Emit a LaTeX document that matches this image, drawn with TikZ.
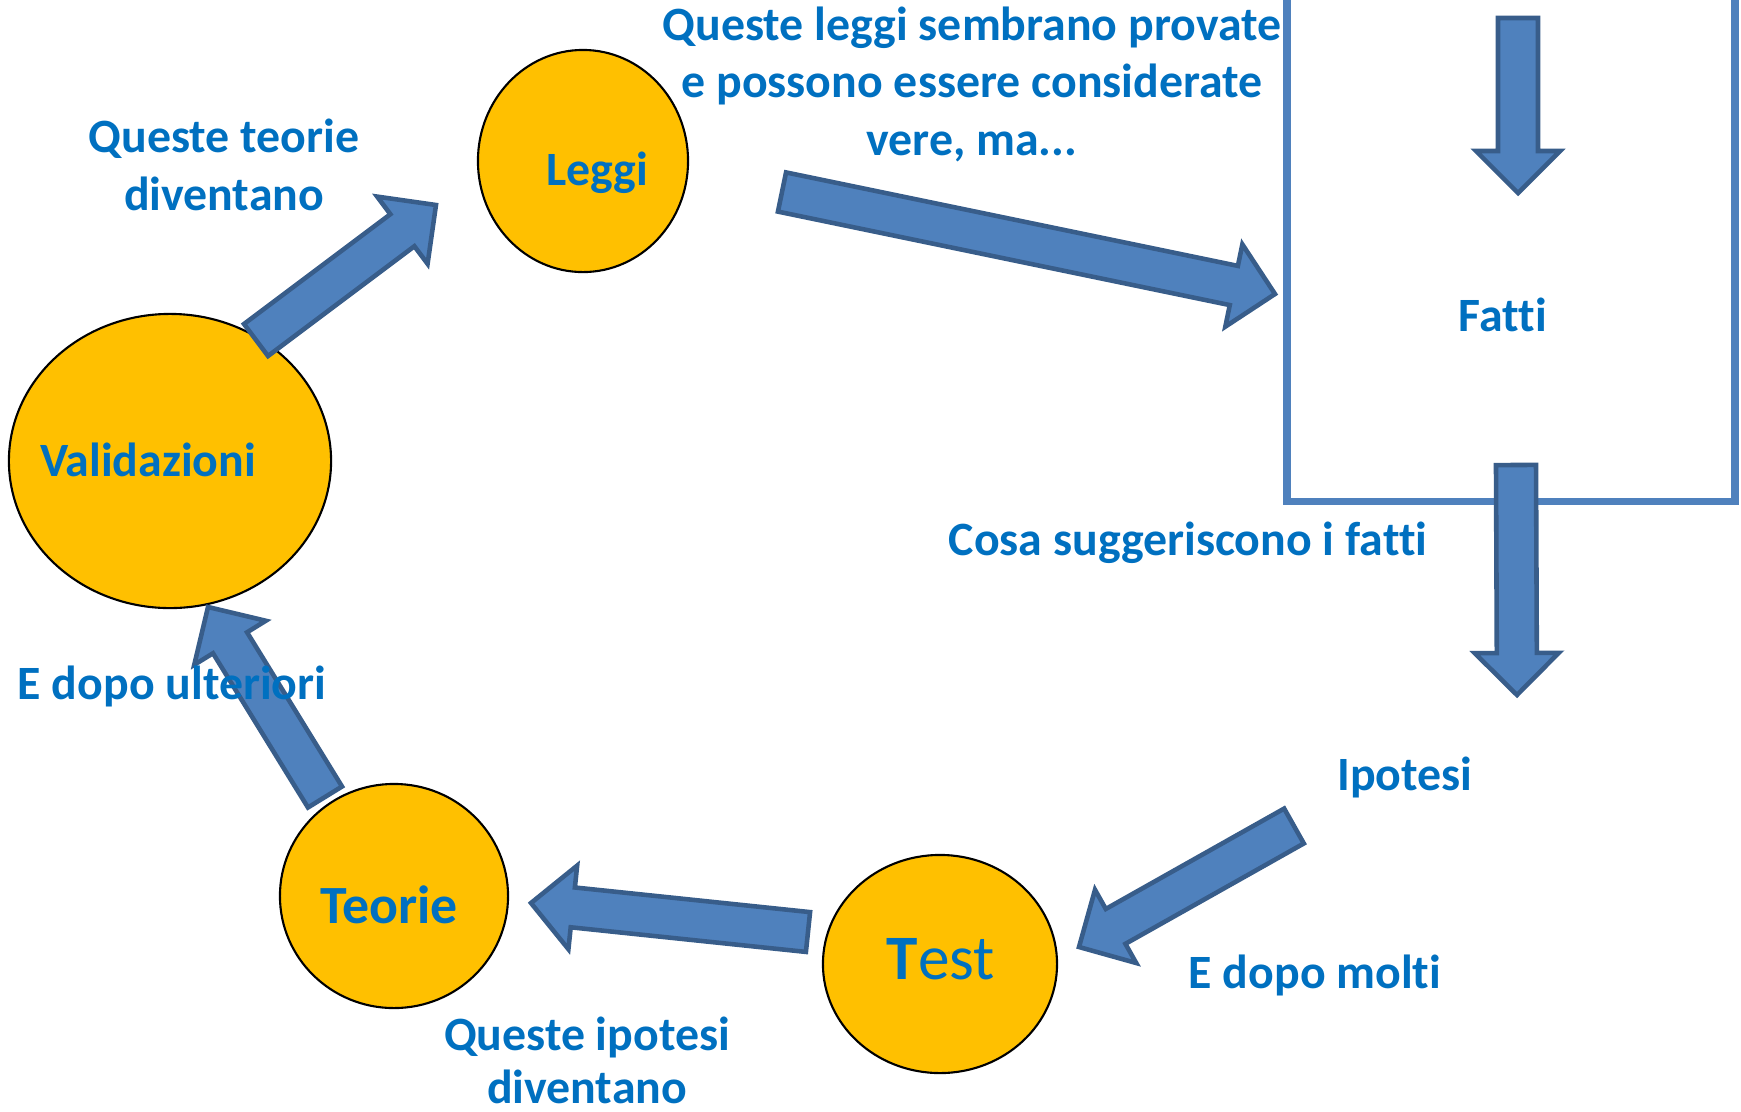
\documentclass[tikz,border=0pt]{standalone}
\usepackage{fontspec}
\setmainfont{Carlito}[Ligatures=NoCommon]
\usepackage{tikz}
\usetikzlibrary{calc}
\usetikzlibrary{shapes.geometric}

\definecolor{txtblue}{HTML}{0070C0}
\definecolor{gold}{HTML}{FFC000}
\definecolor{arrowfill}{HTML}{4F81BD}
\definecolor{arrowline}{HTML}{385D8A}

\newcommand{\blockarrow}[2]{%
  \draw[barrow] ($(#1)!0.2cm!90:(#2)$) -- ($(#2)!0.42cm!(#1)!0.2cm!-90:(#1)$)
    -- ($(#2)!0.42cm!(#1)!0.42cm!-90:(#1)$) -- (#2)
    -- ($(#2)!0.42cm!(#1)!0.42cm!90:(#1)$) -- ($(#2)!0.42cm!(#1)!0.2cm!90:(#1)$)
    -- ($(#1)!0.2cm!-90:(#2)$) -- cycle;}

\begin{document}
\begin{tikzpicture}[x=0.01cm, y=-0.01cm,
  ball/.style={ellipse, draw=black, line width=0.6pt, fill=gold, inner sep=0pt},
  lbl/.style={text=txtblue, font=\fontsize{13.6}{16.3}\selectfont\bfseries, align=center},
  barrow/.style={fill=arrowfill, draw=arrowline, line width=1.3pt, line join=miter},
  factbox/.style={rectangle, draw=arrowfill, line width=2.1pt, inner sep=0pt}]
\clip (0,0) rectangle (1741,1111);

\node[factbox, minimum width=4.48cm, minimum height=6.6cm] (box) at (1511,171) {};
\node[ball, minimum width=2.1cm, minimum height=2.22cm, label={[lbl, xshift=0.14cm, yshift=-0.12cm]center:Leggi}] (leggi) at (583,161) {};
\node[ball, minimum width=3.22cm, minimum height=2.94cm, label={[lbl, xshift=-0.22cm, yshift=0.01cm]center:Validazioni}] (valid) at (170,461) {};
\node[ball, minimum width=2.28cm, minimum height=2.24cm, label={[lbl, xshift=-0.05cm, yshift=-0.09cm, font=\fontsize{15.3}{18}\selectfont\bfseries]center:Teorie}] (teorie) at (394,896) {};
\node[ball, minimum width=2.34cm, minimum height=2.18cm, label={[lbl, xshift=0.01cm, yshift=0.05cm, font=\fontsize{18}{21}\selectfont\mdseries]center:{{\bfseries T}est}}] (test) at (940,964) {};

\coordinate (topIn) at (1518,18);
\coordinate (fattiIn) at (1518,193);
\coordinate (fattiOut) at (1516,465);
\coordinate (ipoIn) at (1517,695);
\coordinate (ipoOut) at (1294,826);
\coordinate (testIn) at (1079,947);
\coordinate (testOut) at (808,932);
\coordinate (teoIn) at (531,903);
\coordinate (teoOut) at (325,797);
\coordinate (validIn) at (208,607);
\coordinate (validOut) at (256,340);
\coordinate (leggiIn) at (436,205);
\coordinate (leggiOut) at (782,192);
\coordinate (boxIn) at (1275,294);

\foreach \a/\b in {topIn/fattiIn, fattiOut/ipoIn, ipoOut/testIn, testOut/teoIn, teoOut/validIn, validOut/leggiIn, leggiOut/boxIn}
  \blockarrow{\a}{\b};

\node[lbl, anchor=base] (fatti) at (1503,331) {Fatti};
\node[lbl, anchor=base] (ipotesi) at (1405,790) {Ipotesi};
% anchor=base sits on the last line
\node[lbl, anchor=base] (tlaws) at (972,155) {Queste leggi sembrano provate\\e possono essere considerate\\vere, ma...};
\node[lbl, anchor=base] (tteo) at (224,210) {Queste teorie\\diventano};
\node[lbl, anchor=base] (tsugg) at (1188,555) {Cosa suggeriscono i fatti};
\node[lbl, anchor=base] (tmolti) at (1315,988) {E dopo molti};
\node[lbl, anchor=base] (tulter) at (172,699) {E dopo ulteriori};
\node[lbl, anchor=base, font=\fontsize{13.6}{14.8}\selectfont\bfseries] (tipo) at (587,1103) {Queste ipotesi\\diventano};
\end{tikzpicture}
\end{document}
